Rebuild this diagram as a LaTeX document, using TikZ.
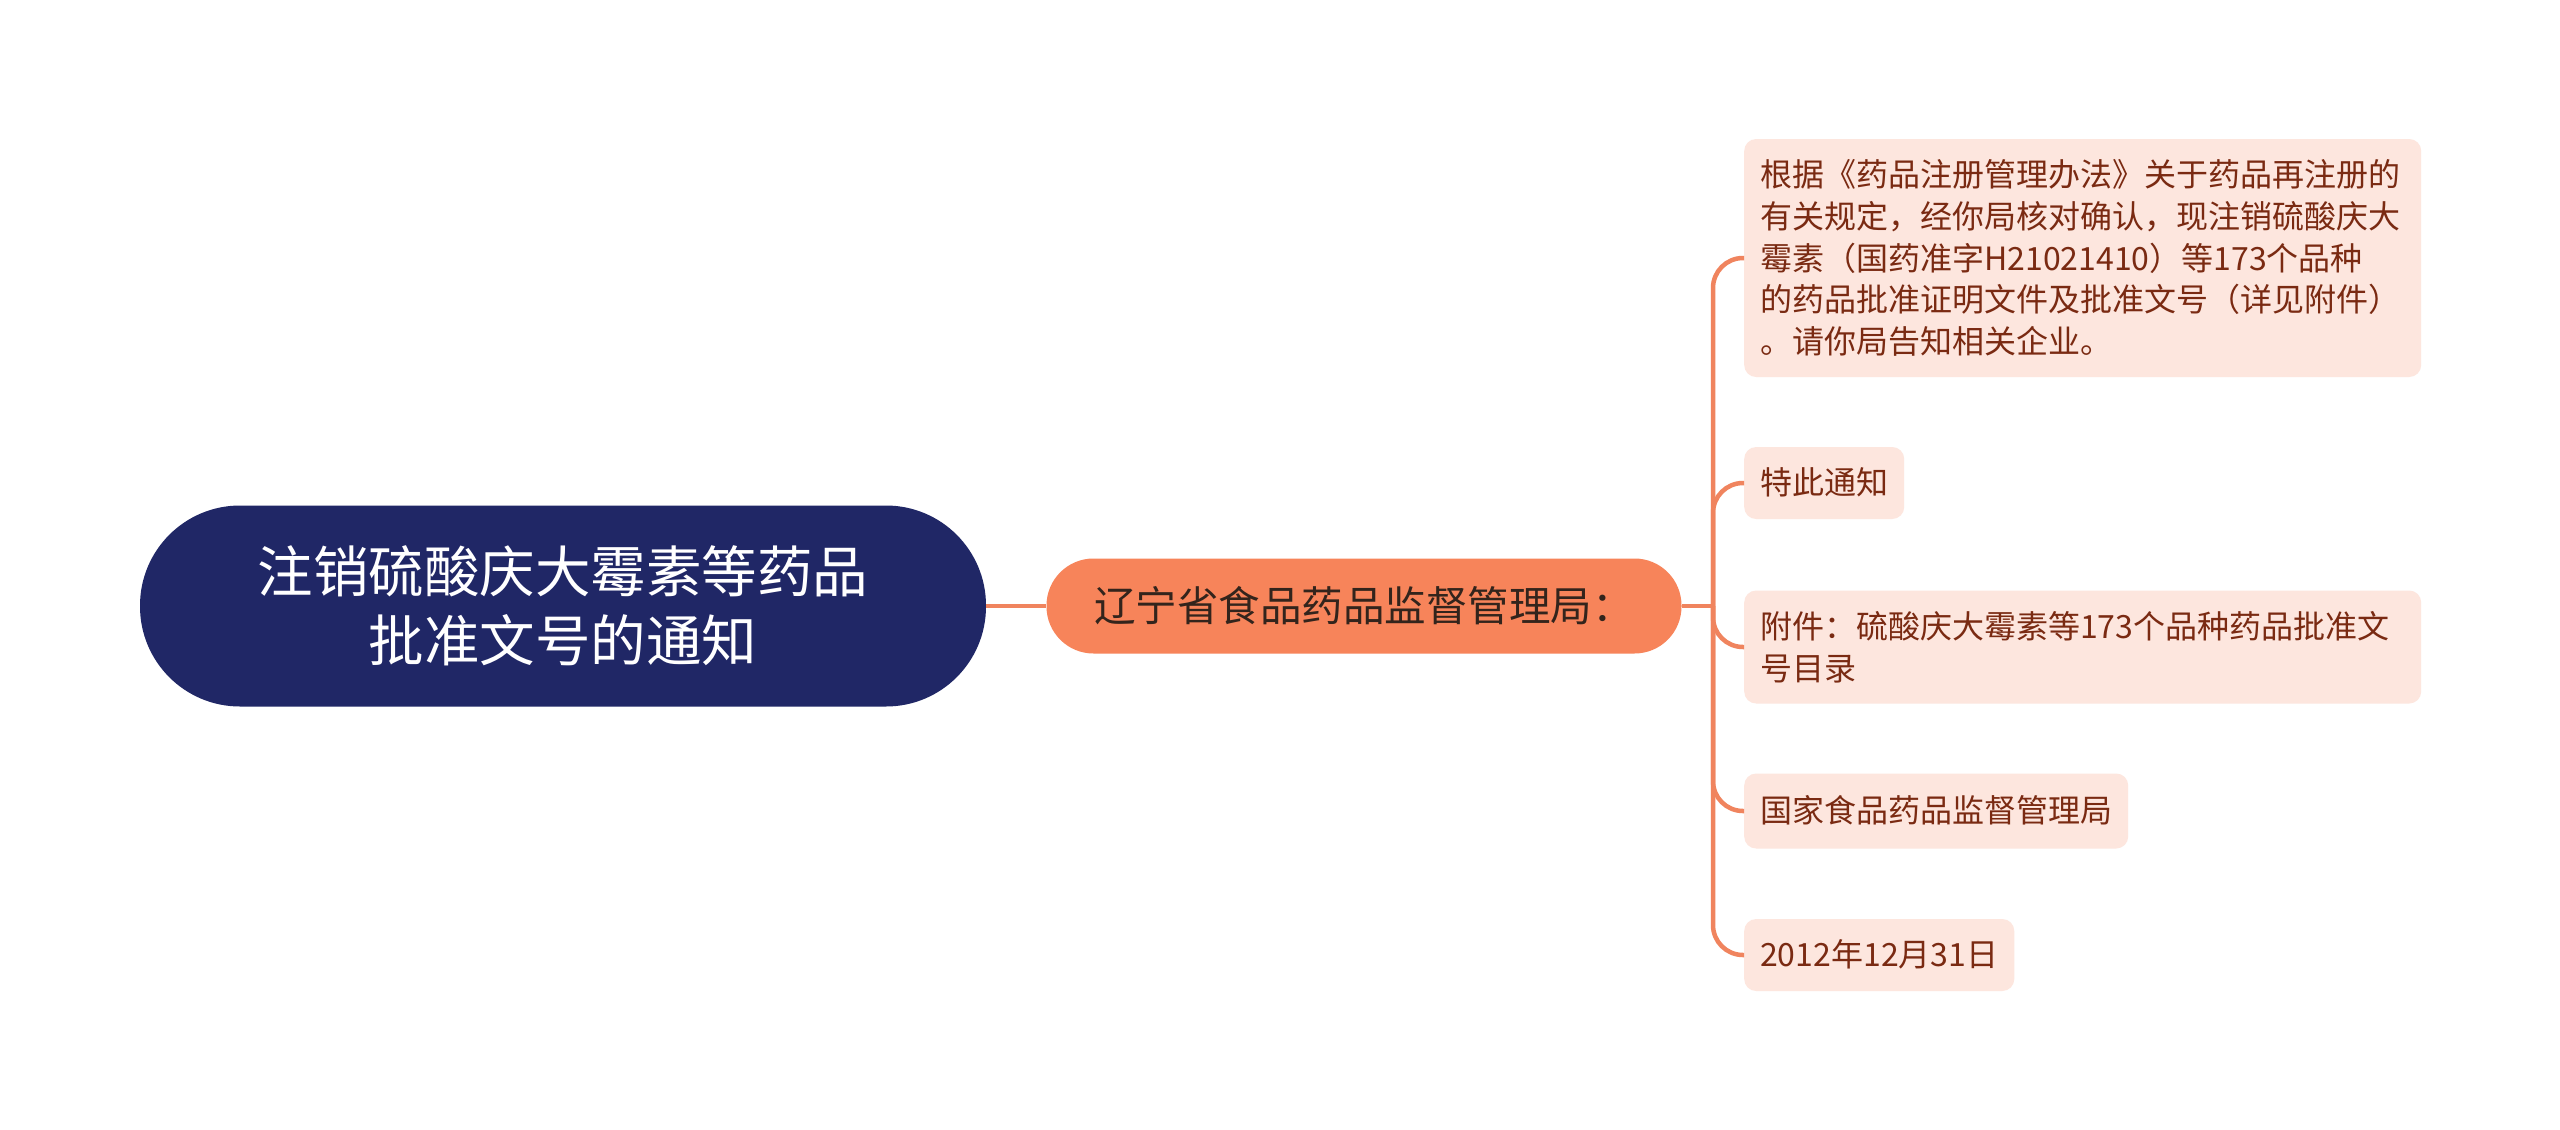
\documentclass[tikz,border=0pt]{standalone}
\usepackage{fontspec}
\setmainfont{Noto Sans CJK SC}
\definecolor{rootfill}{HTML}{202766}
\definecolor{midfill}{HTML}{F7845A}
\definecolor{midtext}{HTML}{33241C}
\definecolor{linkcol}{HTML}{F0845E}
\definecolor{leaffill}{HTML}{FDE6DE}
\definecolor{leaftext}{HTML}{7A2A12}
\tikzset{
  rootnode/.style={fill=rootfill, text=white, rounded corners=100pt,
    minimum width=846pt, minimum height=201pt, align=center,
    font=\fontsize{55.5}{69}\selectfont},
  midnode/.style={fill=midfill, text=midtext, rounded corners=47pt,
    minimum width=635pt, minimum height=95pt,
    font=\fontsize{41.5}{48}\selectfont},
  leafnode/.style={fill=leaffill, text=leaftext, rounded corners=12pt,
    anchor=west, inner xsep=16pt, inner ysep=0pt, align=left,
    font=\fontsize{32}{41.6}\selectfont},
  branch/.style={draw=linkcol, line width=4.5pt}
}
\begin{document}
\begin{tikzpicture}[x=1pt, y=-1pt]
    \useasboundingbox (0,0) rectangle (2560,1130);
    \fill[white] (0,0) rectangle (2560,1130);

    % Nodes
    \node[rootnode] at (563, 606) (root) {注销硫酸庆大霉素等药品\\批准文号的通知};
    \node[midnode] at (1364, 606) (mid) {辽宁省食品药品监督管理局：};
    \coordinate (fork) at (1713, 606);

    \node[leafnode, text width=645pt, minimum height=238pt] at (1744, 258) (l1)
        {根据《药品注册管理办法》关于药品再注册的\\
         有关规定，经你局核对确认，现注销硫酸庆大\\
         霉素（国药准字H21021410）等173个品种\\
         的药品批准证明文件及批准文号（详见附件）\\
         。请你局告知相关企业。};
    \node[leafnode, text height=28pt, text depth=6pt, minimum height=72pt] at (1744, 483) (l2) {特此通知};
    \node[leafnode, text width=645pt, minimum height=113pt] at (1744, 647) (l3)
        {附件：硫酸庆大霉素等173个品种药品批准文\\号目录};
    \node[leafnode, text height=28pt, text depth=6pt, minimum height=75pt] at (1744, 811) (l4) {国家食品药品监督管理局};
    \node[leafnode, text height=28pt, text depth=6pt, minimum height=72pt] at (1744, 955) (l5) {2012年12月31日};

    % Edges
    \draw[branch] (root.east) -- (mid.west);
    \draw[branch] (mid.east) -- (fork);
    \foreach \n in {l1, l2, l3, l4, l5}
        \draw[branch, rounded corners=30pt] (fork) |- (\n.west);
\end{tikzpicture}
\end{document}
